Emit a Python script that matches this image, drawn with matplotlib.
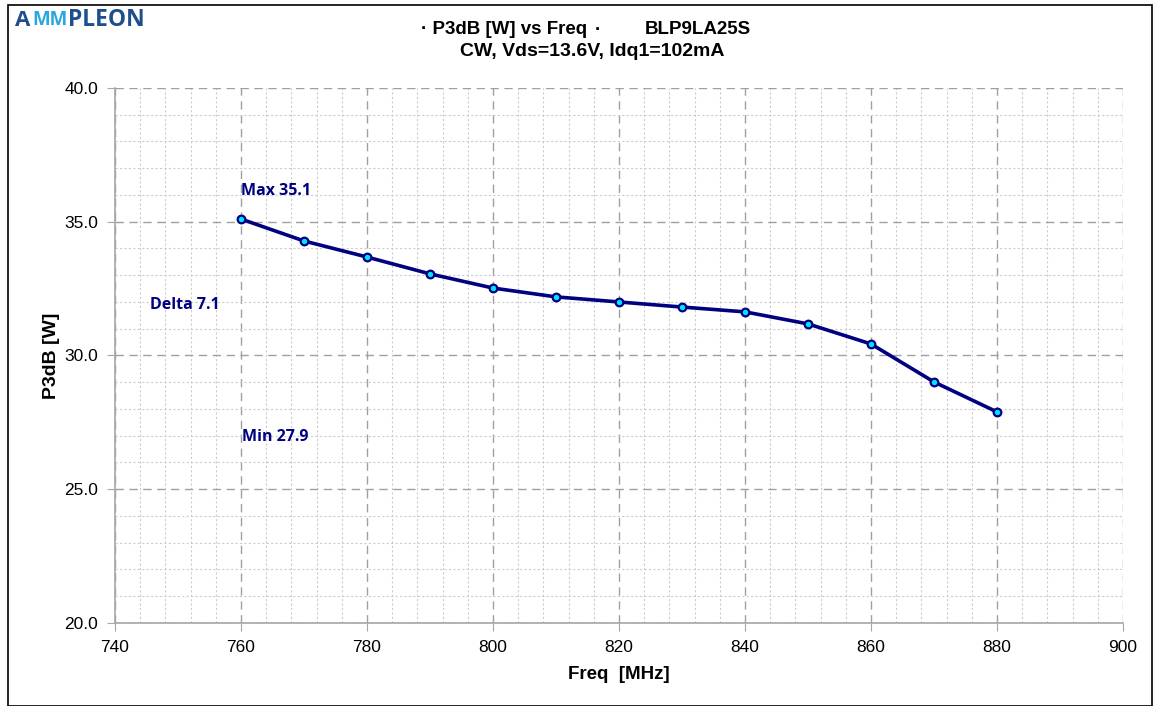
import numpy as np
import matplotlib.pyplot as plt
from matplotlib.ticker import MultipleLocator

# data
freq = [760, 770, 780, 790, 800, 810, 820, 830, 840, 850, 860, 870, 880]
p3db = [35.10, 34.28, 33.68, 33.05, 32.52, 32.19, 32.0, 31.81, 31.63, 31.18, 30.43, 29.01, 27.89]

navy = '#000080'
W, H = 1155, 706

fig = plt.figure(figsize=(11.55, 7.06), dpi=100)
ax = fig.add_axes([0.0996, 0.1176, 0.8727, 0.7578])

ax.plot(freq, p3db, color=navy, lw=2.6, marker='o', markersize=5.5,
        markerfacecolor='#00e5ff', markeredgecolor=navy, markeredgewidth=1.6, zorder=5)

ax.set_xlim(740, 900)
ax.set_ylim(20, 40)
ax.xaxis.set_major_locator(MultipleLocator(20))
ax.xaxis.set_minor_locator(MultipleLocator(4))
ax.yaxis.set_major_locator(MultipleLocator(5))
ax.yaxis.set_minor_locator(MultipleLocator(1))
ax.yaxis.set_major_formatter(plt.FormatStrFormatter('%.1f'))

ax.grid(which='major', color='#a0a0a0', linestyle=(0, (6, 4)), lw=1.0)
ax.grid(which='minor', color='#cccccc', linestyle=(0, (2, 2)), lw=0.8)
ax.set_axisbelow(True)

for s in ['top', 'right']:
    ax.spines[s].set_visible(False)
for s in ['left', 'bottom']:
    ax.spines[s].set_color('#a6a6a6')
    ax.spines[s].set_linewidth(1.2)

ax.tick_params(which='major', length=6, color='#a6a6a6', labelsize=12.5, pad=6)
ax.tick_params(which='minor', length=0)
for lab in ax.get_xticklabels() + ax.get_yticklabels():
    lab.set_fontfamily('Liberation Sans')

ax.set_xlabel('Freq  [MHz]', fontsize=13.5, fontweight='bold', family='Liberation Sans', labelpad=8)
ax.set_ylabel('P3dB [W]', fontsize=14, fontweight='bold', family='Liberation Sans', labelpad=3)

# annotations
ann = dict(color=navy, fontsize=11.5, fontweight='bold', family='Open Sans')
ax.text(760, 35.85, 'Max 35.1', ha='left', va='bottom', **ann)
ax.text(745.6, 31.9, 'Delta 7.1', ha='left', va='center', **ann)
ax.text(760.2, 26.95, 'Min 27.9', ha='left', va='center', **ann)

# title
tt = dict(va='center', fontsize=13.5, fontweight='bold', family='Liberation Sans')
fig.text(421 / W, 1 - 30 / H, '· P3dB [W] vs Freq', ha='left', **tt)
fig.text(595 / W, 1 - 30 / H, '·', ha='left', **tt)
fig.text(645 / W, 1 - 30 / H, 'BLP9LA25S', ha='left', **tt)
fig.text(592 / W, 1 - 52 / H, 'CW, Vds=13.6V, Idq1=102mA', ha='center', va='center',
         fontsize=14, fontweight='bold', family='Liberation Sans')

# logo
logo = dict(fontweight='bold', family='Open Sans', va='center', ha='left')
fig.text(15 / W, 1 - 20 / H, 'A', color='#1f4e8c', fontsize=16, **logo)
fig.text(32 / W, 1 - 20 / H, 'MM', color='#29a8e0', fontsize=13.5, **logo)
fig.text(68 / W, 1 - 20 / H, 'PLEON', color='#1f4e8c', fontsize=16.5, **logo)

# figure border
fig.patches.append(plt.Rectangle((0.007, 0.0), 0.99, 0.993, transform=fig.transFigure,
                                 fill=False, edgecolor='black', lw=1.2))

fig.savefig('out.png', dpi=100)
